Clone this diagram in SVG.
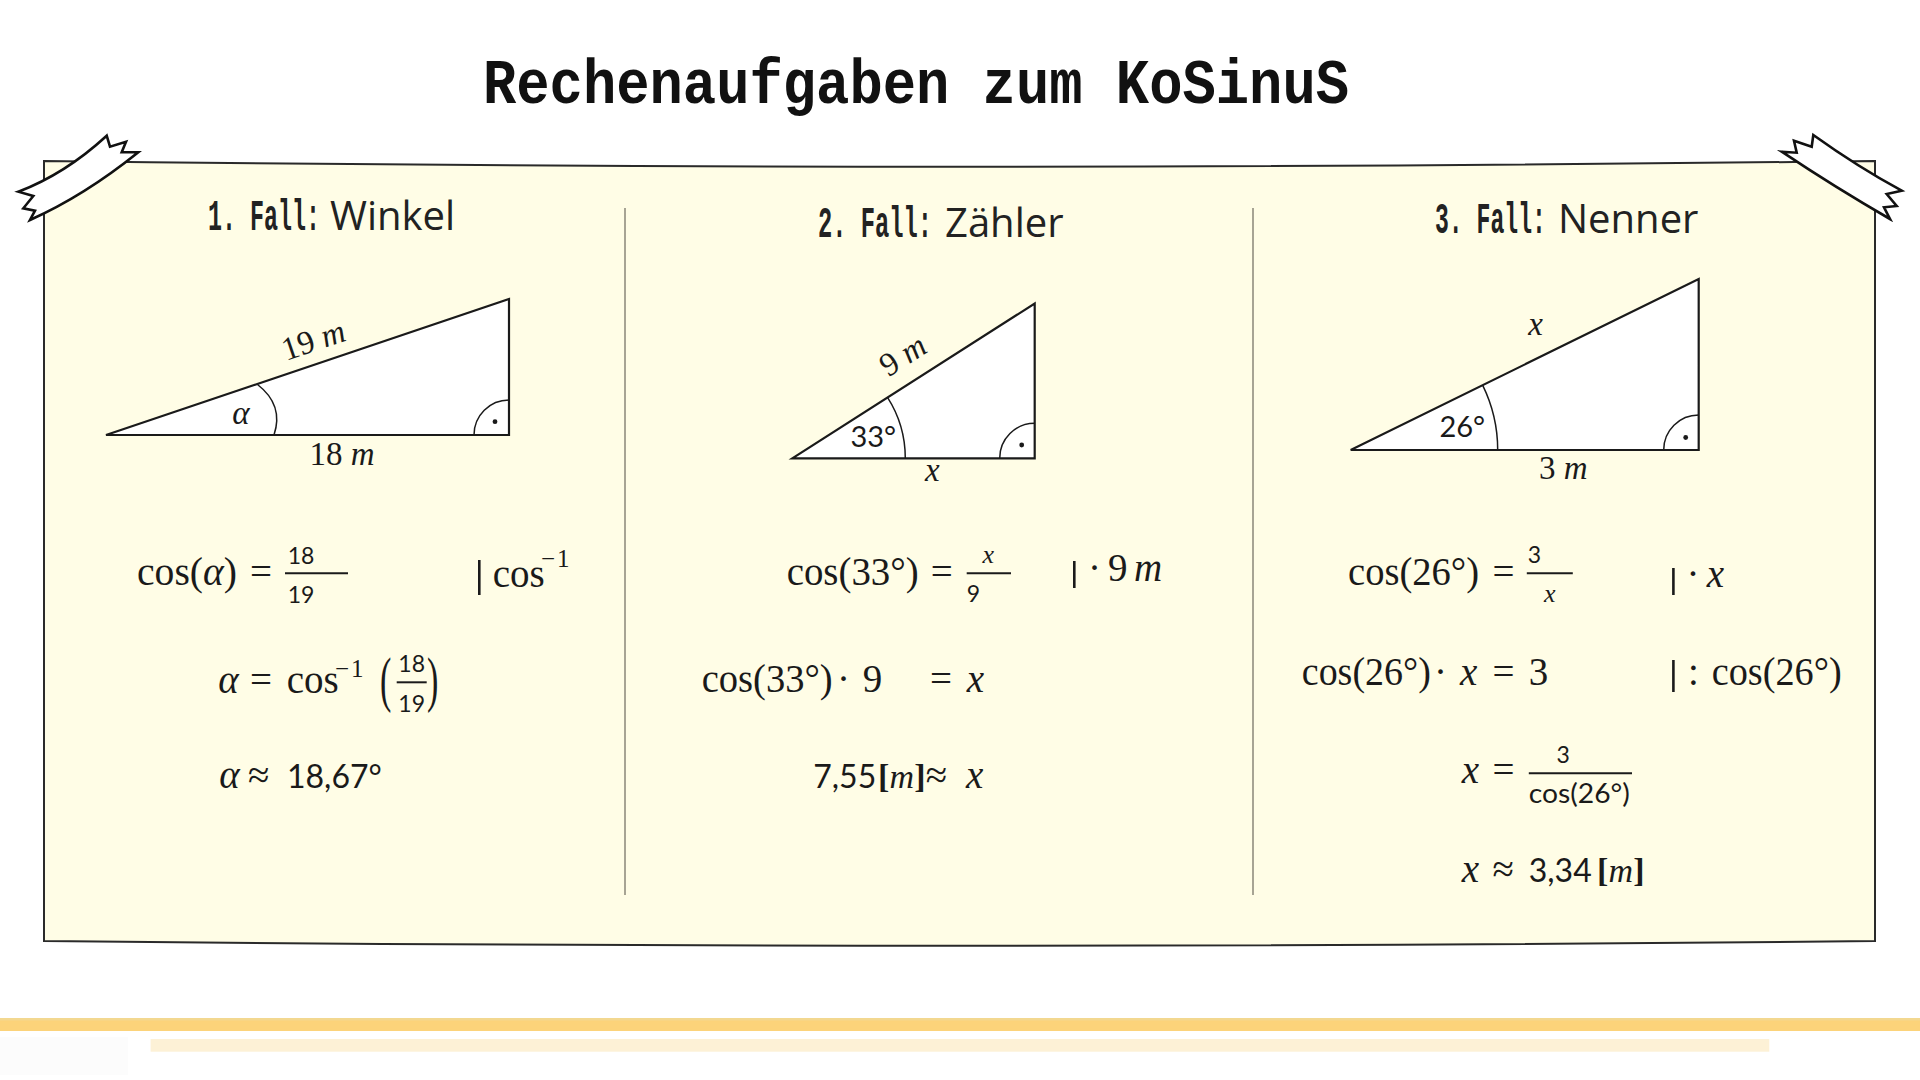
<svg xmlns="http://www.w3.org/2000/svg" width="1920" height="1080" viewBox="0 0 1920 1080">
<style>
.m{font-family:"Liberation Serif","DejaVu Serif",serif;font-size:39px;fill:#1a1a1a}
.t{font-family:"Liberation Serif","DejaVu Serif",serif;font-size:33px;fill:#1a1a1a}
.u{font-family:"Liberation Serif","DejaVu Serif",serif;font-size:34px;fill:#1a1a1a}
.i{font-style:italic}
.b{font-weight:bold}
.s{font-family:Lato,"Liberation Sans",sans-serif;fill:#1a1a1a}
.fr{font-size:23px}
.big{font-size:32px}
.sup{font-family:"Liberation Serif",serif;font-size:25px;fill:#1a1a1a;letter-spacing:2px}
.hd{font-family:"Liberation Mono",monospace;font-weight:bold;font-size:44px;fill:#222}
.hs{font-family:"Open Sans",sans-serif;font-size:40px;fill:#222}
.ln{stroke:#1a1a1a;stroke-width:2;fill:none}
.bar{stroke:#1a1a1a;stroke-width:2.6;fill:none}
.tri{fill:#fff;stroke:#1a1a1a;stroke-width:2.2;stroke-linejoin:miter}
.arc{fill:none;stroke:#1a1a1a;stroke-width:1.5}
.tape{fill:#fff;stroke:#111;stroke-width:2.6;stroke-linejoin:miter}
.div{stroke:#8a8678;stroke-width:1.5}
</style>
<rect width="1920" height="1080" fill="#ffffff"/>

<g id="title">
<text x="483" y="103" textLength="866" lengthAdjust="spacingAndGlyphs" style="font-family:'Liberation Mono',monospace;font-weight:bold;font-size:63px;fill:#111">Rechenaufgaben zum KoSinuS</text>
</g>

<g id="paper">
<path d="M44,161 Q960,172.4 1875,161 L1875,941 Q960,950.4 44,941 Z" fill="#fffde6" stroke="#2a2a2a" stroke-width="2"/>
</g>

<g id="tape-left">
<path class="tape" d="M18.3,191.7 Q65,174 106.7,135.7 L110,146.7 L126,141.7 L121.7,152.3 L138.3,152.3 Q84,196 30,220 L35,210.7 L23.3,208.3 L33.3,196 Z"/>
</g>
<g id="tape-right">
<path class="tape" d="M1781.7,151.7 L1796.7,152.7 L1794,140.7 L1811.7,146.7 L1813.3,135 Q1858,167 1901.7,190.7 L1886.7,194 L1896.7,206 L1884,207.3 L1890,219 Q1836,188 1781.7,151.7 Z"/>
</g>

<g id="dividers">
<line class="div" x1="625" y1="208" x2="625" y2="895"/>
<line class="div" x1="1253" y1="208" x2="1253" y2="895"/>
</g>

<g id="connectors"></g>

<g id="case1">
<text class="hd" transform="translate(208,230) scale(0.53,1)">1. Fall:</text>
<text class="hs" x="330" y="230">Winkel</text>
<polygon class="tri" points="106,435 509,435 509,299"/>
<path class="arc" d="M257.5,384.5 Q284,405 274,435"/>
<path class="arc" d="M474,435 A35,35 0 0 1 509,400"/>
<circle cx="495" cy="421.7" r="2.4" fill="#1a1a1a"/>
<text class="t" transform="translate(313.6,341) rotate(-18.65)" x="0" y="10" text-anchor="middle">19 <tspan class="i">m</tspan></text>
<text class="t i" x="241" y="424" text-anchor="middle">α</text>
<text class="t" x="342" y="465" text-anchor="middle">18 <tspan class="i">m</tspan></text>

<text class="m" x="137" y="585" textLength="100" lengthAdjust="spacingAndGlyphs">cos(<tspan class="i">α</tspan>)</text>
<text class="m" x="250" y="585">=</text>
<text class="s fr" x="301" y="564" text-anchor="middle">18</text>
<line class="ln" x1="285" y1="573.3" x2="348" y2="573.3"/>
<text class="s fr" x="301" y="603" text-anchor="middle">19</text>
<line class="bar" x1="479.3" y1="560" x2="479.3" y2="595"/>
<text class="m" x="492.7" y="586.7">cos</text>
<text class="sup" x="541" y="567">−1</text>

<text class="m i" x="218.3" y="693.3">α</text>
<text class="m" x="250" y="693.3">=</text>
<text class="m" x="286.7" y="693.3">cos</text>
<text class="sup" x="335" y="677">−1</text>
<text class="m" transform="translate(380,700) scale(0.55,1)" style="font-size:62px">(</text>
<text class="s fr" x="411.7" y="671.7" text-anchor="middle">18</text>
<line class="ln" x1="396.7" y1="682.3" x2="426.7" y2="682.3"/>
<text class="s fr" x="411.7" y="711.7" text-anchor="middle">19</text>
<text class="m" transform="translate(427,700) scale(0.55,1)" style="font-size:62px">)</text>

<text class="m i" x="219.3" y="788.3">α</text>
<text class="m" x="248" y="788.3">≈</text>
<text class="s big" x="287" y="788.3">18,67°</text>
</g>

<g id="case2">
<text class="hd" transform="translate(818,237) scale(0.54,1)">2. Fall:</text>
<text class="hs" x="945" y="237">Zähler</text>
<polygon class="tri" points="792.3,458.3 1034.7,458.3 1034.7,303.5"/>
<path class="arc" d="M887.5,397.4 A113,113 0 0 1 905.3,458.3"/>
<path class="arc" d="M999.7,458.3 A35,35 0 0 1 1034.7,423.3"/>
<circle cx="1021.7" cy="445" r="2.4" fill="#1a1a1a"/>
<text class="t" transform="translate(903.3,356) rotate(-32.6)" x="0" y="10" text-anchor="middle">9 <tspan class="i">m</tspan></text>
<text class="s" x="873.3" y="446.7" text-anchor="middle" style="font-size:29px">33°</text>
<text class="t i" x="932.3" y="481" text-anchor="middle">x</text>

<text class="m" x="786.7" y="585" textLength="132" lengthAdjust="spacingAndGlyphs">cos(33°)</text>
<text class="m" x="930.7" y="585">=</text>
<text class="m i" x="988.3" y="563.3" text-anchor="middle" style="font-size:26px">x</text>
<line class="ln" x1="966.7" y1="573.3" x2="1011" y2="573.3"/>
<text class="s fr" x="973.3" y="601.7" text-anchor="middle">9</text>
<line class="bar" x1="1074.3" y1="561" x2="1074.3" y2="588"/>
<text class="m" x="1088" y="581">·</text>
<text class="m" x="1108" y="581">9</text>
<text class="m i" x="1134" y="581">m</text>

<text class="m" x="701.7" y="691.7" textLength="131" lengthAdjust="spacingAndGlyphs">cos(33°)</text>
<text class="m" x="837" y="691.7">·</text>
<text class="m" x="862.7" y="691.7">9</text>
<text class="m" x="930" y="691.7">=</text>
<text class="m i" x="966.7" y="691.7">x</text>

<text class="s big" x="813.3" y="788.3">7,55</text>
<text class="u b" x="878" y="788.3">[</text>
<text class="u i" x="889.5" y="788.3">m</text>
<text class="u b" x="914.2" y="788.3">]</text>
<text class="m" x="925.8" y="788.3">≈</text>
<text class="m i" x="966" y="788.3">x</text>
</g>

<g id="case3">
<text class="hd" transform="translate(1435,233) scale(0.525,1)">3. Fall:</text>
<text class="hs" x="1558" y="233">Nenner</text>
<polygon class="tri" points="1350.7,450 1698.7,450 1698.7,279"/>
<path class="arc" d="M1482.6,385.2 A147,147 0 0 1 1497.7,450"/>
<path class="arc" d="M1663.7,450 A35,35 0 0 1 1698.7,415"/>
<circle cx="1685.7" cy="437.5" r="2.4" fill="#1a1a1a"/>
<text class="t i" x="1535.7" y="335" text-anchor="middle">x</text>
<text class="s" x="1462.3" y="436.7" text-anchor="middle" style="font-size:29px">26°</text>
<text class="t" x="1563.3" y="479" text-anchor="middle">3 <tspan class="i">m</tspan></text>

<text class="m" x="1348.1" y="585" textLength="131" lengthAdjust="spacingAndGlyphs">cos(26°)</text>
<text class="m" x="1492.4" y="585">=</text>
<text class="s fr" x="1534.5" y="563.3" text-anchor="middle">3</text>
<line class="ln" x1="1526.8" y1="573.3" x2="1572.8" y2="573.3"/>
<text class="m i" x="1549.8" y="601.7" text-anchor="middle" style="font-size:26px">x</text>
<line class="bar" x1="1673.4" y1="568" x2="1673.4" y2="595"/>
<text class="m" x="1686.5" y="586.7">·</text>
<text class="m i" x="1706.7" y="586.7">x</text>

<text class="m" x="1301.8" y="685" textLength="129" lengthAdjust="spacingAndGlyphs">cos(26°)</text>
<text class="m" x="1434" y="685">·</text>
<text class="m i" x="1459.9" y="685">x</text>
<text class="m" x="1492.4" y="685">=</text>
<text class="m" x="1528.8" y="685">3</text>
<line class="bar" x1="1673.4" y1="660" x2="1673.4" y2="692"/>
<text class="m" x="1688" y="685">:</text>
<text class="m" x="1711.7" y="685" textLength="130" lengthAdjust="spacingAndGlyphs">cos(26°)</text>

<text class="m i" x="1461.8" y="783.3">x</text>
<text class="m" x="1492.4" y="783.3">=</text>
<text class="s fr" x="1563.2" y="763.3" text-anchor="middle">3</text>
<line class="ln" x1="1528.8" y1="773.3" x2="1632" y2="773.3"/>
<text class="s" x="1528.8" y="803.3" textLength="101" lengthAdjust="spacingAndGlyphs" style="font-size:27px">cos(26°)</text>

<text class="m i" x="1461.8" y="881.7">x</text>
<text class="m" x="1492.4" y="881.7">≈</text>
<text class="s big" x="1528.8" y="881.7">3,34</text>
<text class="u b" x="1597" y="881.7">[</text>
<text class="u i" x="1608.5" y="881.7">m</text>
<text class="u b" x="1633.2" y="881.7">]</text>
</g>

<g id="footer">
<rect x="0" y="1018" width="1920" height="13" fill="#fcd37a"/>
<rect x="0" y="1018" width="1920" height="2.5" fill="#f3d890"/>
<rect x="150.6" y="1039" width="1618.7" height="12.7" fill="#fdf1d6"/>
<rect x="0" y="1037" width="128" height="38" fill="#fcfcfc"/>
</g>
</svg>
